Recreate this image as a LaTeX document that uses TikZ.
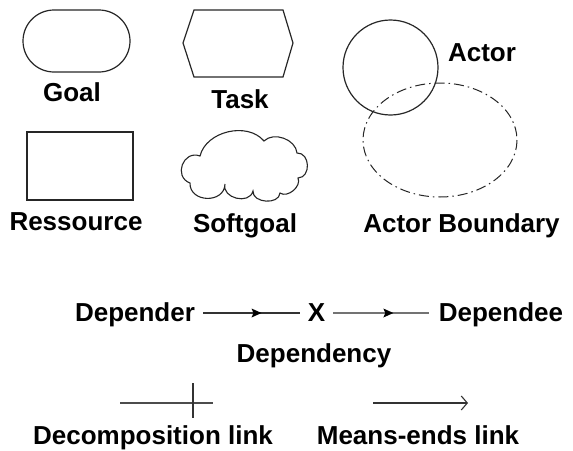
\documentclass[tikz,border=0pt]{standalone}
\usepackage{fontspec}
\setmainfont{Liberation Sans}
\usetikzlibrary{arrows.meta,decorations.markings}
\begin{document}
\begin{tikzpicture}[x=1pt,y=-1pt,
  lbl/.style={inner sep=0pt,anchor=base,font=\fontsize{26}{30}\selectfont\bfseries},
  rowlbl/.style={inner sep=0pt,font=\fontsize{26}{30}\selectfont\bfseries,text height=16pt,text depth=0pt},
  shp/.style={draw=black!85,line width=1.2pt},
  lnk/.style={draw=black!80,line width=1.1pt},
  midarrow/.style={postaction={decorate},decoration={markings,mark=at position #1 with {\fill[black] (-10pt,-4.5pt) -- (0pt,0pt) -- (-10pt,4.5pt) -- (-8pt,0pt) -- cycle;}}}
]
\useasboundingbox (0,0) rectangle (573,450);
% Goal
\node[shp,rounded corners=31pt,minimum width=107pt,minimum height=62pt,inner sep=0pt] (goal) at (76.5,41) {};
\node[lbl] (goallbl) at (72,101) {Goal};
% Task
\draw[shp] (194,10) -- (283,10) -- (293,43) -- (283,77) -- (194,77) -- (183,43) -- cycle;
\node[lbl] (tasklbl) at (240,108) {Task};
% Actor
\node[shp,circle,minimum size=95pt,inner sep=0pt] (actor) at (390.5,67.5) {};
\node[lbl] (actorlbl) at (482,61) {Actor};
% Actor boundary
\draw[draw=black!85,line width=1pt,dash pattern=on 10pt off 4pt on 1.5pt off 4pt] (440,140) ellipse [x radius=77, y radius=57];
\node[lbl] (boundlbl) at (461.5,232) {Actor Boundary};
% Ressource
\node[shp,minimum width=106pt,minimum height=68pt,inner sep=0pt] (res) at (80,166) {};
\node[lbl] (reslbl) at (76,230) {Ressource};
% Softgoal (cloud)
\draw[shp,line width=1.1pt]
  (200,156) to[bend left=63] (264,141)
  to[bend left=65] (297,153)
  to[bend left=90,looseness=1.35] (298,178)
  to[bend left=75] (280,193)
  to[bend left=90,looseness=1.15] (253,191)
  to[bend left=90,looseness=1.3] (225,184)
  to[bend left=90,looseness=1.45] (190,183)
  to[bend left=90,looseness=1.6] (200,156) -- cycle;
\node[lbl] (softlbl) at (245,232) {Softgoal};
% Dependency
\node[rowlbl,anchor=base] (depender) at (135,321) {Depender};
\node[rowlbl,anchor=base] (x) at (316.5,321) {X};
\node[rowlbl,anchor=base] (dependee) at (501,321) {Dependee};
\node[lbl] (dependency) at (314,362) {Dependency};
\draw[lnk,midarrow=0.59,shorten <=8pt,shorten >=8pt] (depender) -- (x);
\draw[lnk,draw=black!55,midarrow=0.6,shorten <=8pt,shorten >=10pt] (x) -- (dependee);
% Decomposition link
\coordinate (d1) at (120,403);
\coordinate (d2) at (213,403);
\coordinate (dt1) at (193,383);
\coordinate (dt2) at (193,418);
\draw[lnk,draw=black!70] (d1) -- (d2);
\draw[lnk] (dt1) -- (dt2);
\node[lbl] (decolbl) at (153,444.5) {Decomposition link};
% Means-ends link
\coordinate (m1) at (373,403);
\coordinate (m2) at (468,403);
\draw[lnk,-{Straight Barb[length=6pt,width=14pt]}] (m1) -- (m2);
\node[lbl] (meanslbl) at (418,444.5) {Means-ends link};
\end{tikzpicture}
\end{document}
